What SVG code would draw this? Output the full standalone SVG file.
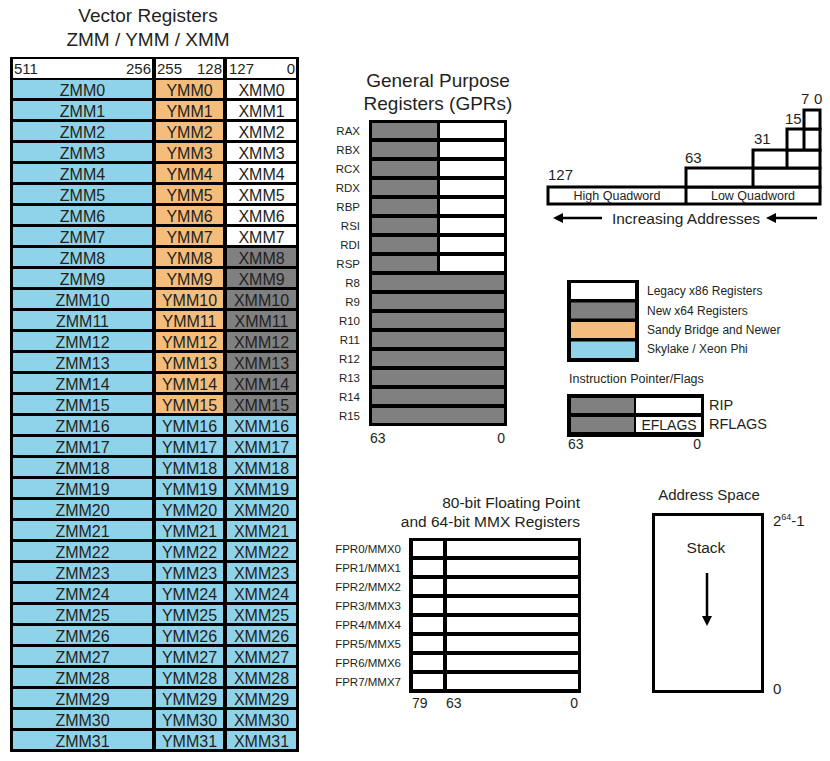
<svg xmlns="http://www.w3.org/2000/svg" width="830" height="761" viewBox="0 0 830 761">
<defs>
<style>
text{font-family:"Liberation Sans",Arial,sans-serif;fill:#231f20}
.z{fill:#8fd3ea}
.o{fill:#f4bd7c}
.w{fill:#fff}
.g{fill:#808080}
.k{fill:#000}
.c{font-size:16px;text-anchor:middle}
.h{font-size:15px}
.t{font-size:19px;text-anchor:middle}
.gl{font-size:11.5px;text-anchor:end}
.fl{font-size:11.5px;text-anchor:end}
.n{font-size:14px}
.e{text-anchor:end}
.q{fill:#fff;stroke:#000;stroke-width:3}
.ln{stroke:#000;stroke-width:3;fill:none}
.ar{stroke:#000;stroke-width:2.5;fill:none}
</style>
<marker id="ah" viewBox="0 0 10 10" refX="1" refY="5" markerWidth="5" markerHeight="4" orient="auto" markerUnits="strokeWidth">
<path d="M0,0 L10,5 L0,10 z" fill="#000"/>
</marker>
</defs>
<rect width="830" height="761" fill="#fff"/>

<g id="vector-registers">
<text class="t" x="148" y="22">Vector Registers</text>
<text class="t" x="148" y="46">ZMM / YMM / XMM</text>
<rect class="k" x="10" y="57" width="289" height="695"/>
<rect class="w" x="13" y="59" width="139" height="19"/>
<rect class="w" x="156" y="59" width="67" height="19"/>
<rect class="w" x="227" y="59" width="69" height="19"/>
<text class="h" x="14" y="74">511</text>
<text class="h e" x="151" y="74">256</text>
<text class="h" x="157" y="74">255</text>
<text class="h e" x="222" y="74">128</text>
<text class="h" x="229" y="74">127</text>
<text class="h e" x="295" y="74">0</text>
</g>

<g id="zmm0-7">
<rect class="z" x="13" y="80" width="139" height="18"/><rect class="o" x="156" y="80" width="67" height="18"/><rect class="w" x="227" y="80" width="69" height="18"/>
<text class="c" x="82.5" y="96">ZMM0</text><text class="c" x="189.5" y="96">YMM0</text><text class="c" x="261.5" y="96">XMM0</text>
<rect class="z" x="13" y="101" width="139" height="18"/><rect class="o" x="156" y="101" width="67" height="18"/><rect class="w" x="227" y="101" width="69" height="18"/>
<text class="c" x="82.5" y="117">ZMM1</text><text class="c" x="189.5" y="117">YMM1</text><text class="c" x="261.5" y="117">XMM1</text>
<rect class="z" x="13" y="122" width="139" height="18"/><rect class="o" x="156" y="122" width="67" height="18"/><rect class="w" x="227" y="122" width="69" height="18"/>
<text class="c" x="82.5" y="138">ZMM2</text><text class="c" x="189.5" y="138">YMM2</text><text class="c" x="261.5" y="138">XMM2</text>
<rect class="z" x="13" y="143" width="139" height="18"/><rect class="o" x="156" y="143" width="67" height="18"/><rect class="w" x="227" y="143" width="69" height="18"/>
<text class="c" x="82.5" y="159">ZMM3</text><text class="c" x="189.5" y="159">YMM3</text><text class="c" x="261.5" y="159">XMM3</text>
<rect class="z" x="13" y="164" width="139" height="18"/><rect class="o" x="156" y="164" width="67" height="18"/><rect class="w" x="227" y="164" width="69" height="18"/>
<text class="c" x="82.5" y="180">ZMM4</text><text class="c" x="189.5" y="180">YMM4</text><text class="c" x="261.5" y="180">XMM4</text>
<rect class="z" x="13" y="185" width="139" height="18"/><rect class="o" x="156" y="185" width="67" height="18"/><rect class="w" x="227" y="185" width="69" height="18"/>
<text class="c" x="82.5" y="201">ZMM5</text><text class="c" x="189.5" y="201">YMM5</text><text class="c" x="261.5" y="201">XMM5</text>
<rect class="z" x="13" y="206" width="139" height="18"/><rect class="o" x="156" y="206" width="67" height="18"/><rect class="w" x="227" y="206" width="69" height="18"/>
<text class="c" x="82.5" y="222">ZMM6</text><text class="c" x="189.5" y="222">YMM6</text><text class="c" x="261.5" y="222">XMM6</text>
<rect class="z" x="13" y="227" width="139" height="18"/><rect class="o" x="156" y="227" width="67" height="18"/><rect class="w" x="227" y="227" width="69" height="18"/>
<text class="c" x="82.5" y="243">ZMM7</text><text class="c" x="189.5" y="243">YMM7</text><text class="c" x="261.5" y="243">XMM7</text>
</g>

<g id="zmm8-15">
<rect class="z" x="13" y="248" width="139" height="18"/><rect class="o" x="156" y="248" width="67" height="18"/><rect class="g" x="227" y="248" width="69" height="18"/>
<text class="c" x="82.5" y="264">ZMM8</text><text class="c" x="189.5" y="264">YMM8</text><text class="c" x="261.5" y="264">XMM8</text>
<rect class="z" x="13" y="269" width="139" height="18"/><rect class="o" x="156" y="269" width="67" height="18"/><rect class="g" x="227" y="269" width="69" height="18"/>
<text class="c" x="82.5" y="285">ZMM9</text><text class="c" x="189.5" y="285">YMM9</text><text class="c" x="261.5" y="285">XMM9</text>
<rect class="z" x="13" y="290" width="139" height="18"/><rect class="o" x="156" y="290" width="67" height="18"/><rect class="g" x="227" y="290" width="69" height="18"/>
<text class="c" x="82.5" y="306">ZMM10</text><text class="c" x="189.5" y="306">YMM10</text><text class="c" x="261.5" y="306">XMM10</text>
<rect class="z" x="13" y="311" width="139" height="18"/><rect class="o" x="156" y="311" width="67" height="18"/><rect class="g" x="227" y="311" width="69" height="18"/>
<text class="c" x="82.5" y="327">ZMM11</text><text class="c" x="189.5" y="327">YMM11</text><text class="c" x="261.5" y="327">XMM11</text>
<rect class="z" x="13" y="332" width="139" height="18"/><rect class="o" x="156" y="332" width="67" height="18"/><rect class="g" x="227" y="332" width="69" height="18"/>
<text class="c" x="82.5" y="348">ZMM12</text><text class="c" x="189.5" y="348">YMM12</text><text class="c" x="261.5" y="348">XMM12</text>
<rect class="z" x="13" y="353" width="139" height="18"/><rect class="o" x="156" y="353" width="67" height="18"/><rect class="g" x="227" y="353" width="69" height="18"/>
<text class="c" x="82.5" y="369">ZMM13</text><text class="c" x="189.5" y="369">YMM13</text><text class="c" x="261.5" y="369">XMM13</text>
<rect class="z" x="13" y="374" width="139" height="18"/><rect class="o" x="156" y="374" width="67" height="18"/><rect class="g" x="227" y="374" width="69" height="18"/>
<text class="c" x="82.5" y="390">ZMM14</text><text class="c" x="189.5" y="390">YMM14</text><text class="c" x="261.5" y="390">XMM14</text>
<rect class="z" x="13" y="395" width="139" height="18"/><rect class="o" x="156" y="395" width="67" height="18"/><rect class="g" x="227" y="395" width="69" height="18"/>
<text class="c" x="82.5" y="411">ZMM15</text><text class="c" x="189.5" y="411">YMM15</text><text class="c" x="261.5" y="411">XMM15</text>
</g>

<g id="zmm16-31">
<rect class="z" x="13" y="416" width="139" height="18"/><rect class="z" x="156" y="416" width="67" height="18"/><rect class="z" x="227" y="416" width="69" height="18"/>
<text class="c" x="82.5" y="432">ZMM16</text><text class="c" x="189.5" y="432">YMM16</text><text class="c" x="261.5" y="432">XMM16</text>
<rect class="z" x="13" y="437" width="139" height="18"/><rect class="z" x="156" y="437" width="67" height="18"/><rect class="z" x="227" y="437" width="69" height="18"/>
<text class="c" x="82.5" y="453">ZMM17</text><text class="c" x="189.5" y="453">YMM17</text><text class="c" x="261.5" y="453">XMM17</text>
<rect class="z" x="13" y="458" width="139" height="18"/><rect class="z" x="156" y="458" width="67" height="18"/><rect class="z" x="227" y="458" width="69" height="18"/>
<text class="c" x="82.5" y="474">ZMM18</text><text class="c" x="189.5" y="474">YMM18</text><text class="c" x="261.5" y="474">XMM18</text>
<rect class="z" x="13" y="479" width="139" height="18"/><rect class="z" x="156" y="479" width="67" height="18"/><rect class="z" x="227" y="479" width="69" height="18"/>
<text class="c" x="82.5" y="495">ZMM19</text><text class="c" x="189.5" y="495">YMM19</text><text class="c" x="261.5" y="495">XMM19</text>
<rect class="z" x="13" y="500" width="139" height="18"/><rect class="z" x="156" y="500" width="67" height="18"/><rect class="z" x="227" y="500" width="69" height="18"/>
<text class="c" x="82.5" y="516">ZMM20</text><text class="c" x="189.5" y="516">YMM20</text><text class="c" x="261.5" y="516">XMM20</text>
<rect class="z" x="13" y="521" width="139" height="18"/><rect class="z" x="156" y="521" width="67" height="18"/><rect class="z" x="227" y="521" width="69" height="18"/>
<text class="c" x="82.5" y="537">ZMM21</text><text class="c" x="189.5" y="537">YMM21</text><text class="c" x="261.5" y="537">XMM21</text>
<rect class="z" x="13" y="542" width="139" height="18"/><rect class="z" x="156" y="542" width="67" height="18"/><rect class="z" x="227" y="542" width="69" height="18"/>
<text class="c" x="82.5" y="558">ZMM22</text><text class="c" x="189.5" y="558">YMM22</text><text class="c" x="261.5" y="558">XMM22</text>
<rect class="z" x="13" y="563" width="139" height="18"/><rect class="z" x="156" y="563" width="67" height="18"/><rect class="z" x="227" y="563" width="69" height="18"/>
<text class="c" x="82.5" y="579">ZMM23</text><text class="c" x="189.5" y="579">YMM23</text><text class="c" x="261.5" y="579">XMM23</text>
<rect class="z" x="13" y="584" width="139" height="18"/><rect class="z" x="156" y="584" width="67" height="18"/><rect class="z" x="227" y="584" width="69" height="18"/>
<text class="c" x="82.5" y="600">ZMM24</text><text class="c" x="189.5" y="600">YMM24</text><text class="c" x="261.5" y="600">XMM24</text>
<rect class="z" x="13" y="605" width="139" height="18"/><rect class="z" x="156" y="605" width="67" height="18"/><rect class="z" x="227" y="605" width="69" height="18"/>
<text class="c" x="82.5" y="621">ZMM25</text><text class="c" x="189.5" y="621">YMM25</text><text class="c" x="261.5" y="621">XMM25</text>
<rect class="z" x="13" y="626" width="139" height="18"/><rect class="z" x="156" y="626" width="67" height="18"/><rect class="z" x="227" y="626" width="69" height="18"/>
<text class="c" x="82.5" y="642">ZMM26</text><text class="c" x="189.5" y="642">YMM26</text><text class="c" x="261.5" y="642">XMM26</text>
<rect class="z" x="13" y="647" width="139" height="18"/><rect class="z" x="156" y="647" width="67" height="18"/><rect class="z" x="227" y="647" width="69" height="18"/>
<text class="c" x="82.5" y="663">ZMM27</text><text class="c" x="189.5" y="663">YMM27</text><text class="c" x="261.5" y="663">XMM27</text>
<rect class="z" x="13" y="668" width="139" height="18"/><rect class="z" x="156" y="668" width="67" height="18"/><rect class="z" x="227" y="668" width="69" height="18"/>
<text class="c" x="82.5" y="684">ZMM28</text><text class="c" x="189.5" y="684">YMM28</text><text class="c" x="261.5" y="684">XMM28</text>
<rect class="z" x="13" y="689" width="139" height="18"/><rect class="z" x="156" y="689" width="67" height="18"/><rect class="z" x="227" y="689" width="69" height="18"/>
<text class="c" x="82.5" y="705">ZMM29</text><text class="c" x="189.5" y="705">YMM29</text><text class="c" x="261.5" y="705">XMM29</text>
<rect class="z" x="13" y="710" width="139" height="18"/><rect class="z" x="156" y="710" width="67" height="18"/><rect class="z" x="227" y="710" width="69" height="18"/>
<text class="c" x="82.5" y="726">ZMM30</text><text class="c" x="189.5" y="726">YMM30</text><text class="c" x="261.5" y="726">XMM30</text>
<rect class="z" x="13" y="731" width="139" height="18"/><rect class="z" x="156" y="731" width="67" height="18"/><rect class="z" x="227" y="731" width="69" height="18"/>
<text class="c" x="82.5" y="747">ZMM31</text><text class="c" x="189.5" y="747">YMM31</text><text class="c" x="261.5" y="747">XMM31</text>
</g>

<g id="gprs">
<text class="t" x="438" y="87">General Purpose</text>
<text class="t" x="438" y="110">Registers (GPRs)</text>
<rect class="k" x="369" y="120" width="138" height="306"/>
<rect class="g" x="372" y="123" width="65" height="15"/><rect class="w" x="440" y="123" width="64" height="15"/>
<rect class="g" x="372" y="142" width="65" height="15"/><rect class="w" x="440" y="142" width="64" height="15"/>
<rect class="g" x="372" y="161" width="65" height="15"/><rect class="w" x="440" y="161" width="64" height="15"/>
<rect class="g" x="372" y="180" width="65" height="15"/><rect class="w" x="440" y="180" width="64" height="15"/>
<rect class="g" x="372" y="199" width="65" height="15"/><rect class="w" x="440" y="199" width="64" height="15"/>
<rect class="g" x="372" y="218" width="65" height="15"/><rect class="w" x="440" y="218" width="64" height="15"/>
<rect class="g" x="372" y="237" width="65" height="15"/><rect class="w" x="440" y="237" width="64" height="15"/>
<rect class="g" x="372" y="256" width="65" height="15"/><rect class="w" x="440" y="256" width="64" height="15"/>
<rect class="g" x="372" y="275" width="132" height="15"/>
<rect class="g" x="372" y="294" width="132" height="15"/>
<rect class="g" x="372" y="313" width="132" height="15"/>
<rect class="g" x="372" y="332" width="132" height="15"/>
<rect class="g" x="372" y="351" width="132" height="15"/>
<rect class="g" x="372" y="370" width="132" height="15"/>
<rect class="g" x="372" y="389" width="132" height="15"/>
<rect class="g" x="372" y="408" width="132" height="15"/>
<text class="gl" x="360" y="135">RAX</text>
<text class="gl" x="360" y="154">RBX</text>
<text class="gl" x="360" y="173">RCX</text>
<text class="gl" x="360" y="192">RDX</text>
<text class="gl" x="360" y="211">RBP</text>
<text class="gl" x="360" y="230">RSI</text>
<text class="gl" x="360" y="249">RDI</text>
<text class="gl" x="360" y="268">RSP</text>
<text class="gl" x="360" y="287">R8</text>
<text class="gl" x="360" y="306">R9</text>
<text class="gl" x="360" y="325">R10</text>
<text class="gl" x="360" y="344">R11</text>
<text class="gl" x="360" y="363">R12</text>
<text class="gl" x="360" y="382">R13</text>
<text class="gl" x="360" y="401">R14</text>
<text class="gl" x="360" y="420">R15</text>
<text class="n" x="370" y="443">63</text>
<text class="n e" x="505" y="443">0</text>
</g>

<g id="quadword">
<rect class="q" x="548" y="187" width="272" height="17"/>
<rect class="q" x="686" y="168" width="134" height="19"/>
<rect class="q" x="753" y="150" width="67" height="18"/>
<rect class="q" x="787" y="129" width="33" height="21"/>
<rect class="q" x="804" y="110" width="16" height="19"/>
<line class="ln" x1="686" y1="187" x2="686" y2="204"/>
<line class="ln" x1="753" y1="168" x2="753" y2="187"/>
<line class="ln" x1="787" y1="150" x2="787" y2="168"/>
<line class="ln" x1="804" y1="129" x2="804" y2="150"/>
<text class="h" x="548" y="180">127</text>
<text class="h" x="685" y="163">63</text>
<text class="h" x="754" y="144">31</text>
<text class="h" x="785" y="124">15</text>
<text class="h" x="801" y="104">7</text>
<text class="h" x="814" y="104">0</text>
<text x="617" y="200" font-size="12.5" text-anchor="middle">High Quadword</text>
<text x="753" y="200" font-size="12.5" text-anchor="middle">Low Quadword</text>
<text x="686" y="224" font-size="15.5" text-anchor="middle">Increasing Addresses</text>
</g>

<g id="legend">
<rect class="k" x="567" y="280" width="72" height="82"/>
<rect class="w" x="571" y="283" width="64" height="16"/>
<rect class="g" x="571" y="302.5" width="64" height="16"/>
<rect class="o" x="571" y="322" width="64" height="16"/>
<rect class="z" x="571" y="341.5" width="64" height="16.5"/>
<text x="647" y="295" font-size="12">Legacy x86 Registers</text>
<text x="647" y="315" font-size="12">New x64 Registers</text>
<text x="647" y="334" font-size="12">Sandy Bridge and Newer</text>
<text x="647" y="353" font-size="12">Skylake / Xeon Phi</text>
</g>

<g id="instruction-pointer">
<text x="569" y="383" font-size="12.5">Instruction Pointer/Flags</text>
<rect class="k" x="567" y="394" width="137" height="43"/>
<rect class="g" x="571" y="398" width="63" height="15"/><rect class="w" x="636" y="398" width="65" height="15"/>
<rect class="g" x="571" y="417" width="63" height="15"/><rect class="w" x="636" y="417" width="65" height="15"/>
<text x="669" y="430" font-size="14" text-anchor="middle">EFLAGS</text>
<text x="709" y="410" font-size="14.5">RIP</text>
<text x="709" y="429" font-size="14.5">RFLAGS</text>
<text class="n" x="568" y="449">63</text>
<text class="n e" x="701" y="449">0</text>
</g>

<g id="fpr">
<text x="580" y="508" font-size="15.5" text-anchor="end">80-bit Floating Point</text>
<text x="580" y="527" font-size="15.5" text-anchor="end">and 64-bit MMX Registers</text>
<rect class="k" x="409" y="538" width="172" height="155"/>
<rect class="w" x="413" y="541" width="30" height="15"/><rect class="w" x="447" y="541" width="131" height="15"/>
<rect class="w" x="413" y="560" width="30" height="15"/><rect class="w" x="447" y="560" width="131" height="15"/>
<rect class="w" x="413" y="579" width="30" height="15"/><rect class="w" x="447" y="579" width="131" height="15"/>
<rect class="w" x="413" y="598" width="30" height="15"/><rect class="w" x="447" y="598" width="131" height="15"/>
<rect class="w" x="413" y="617" width="30" height="15"/><rect class="w" x="447" y="617" width="131" height="15"/>
<rect class="w" x="413" y="636" width="30" height="15"/><rect class="w" x="447" y="636" width="131" height="15"/>
<rect class="w" x="413" y="655" width="30" height="15"/><rect class="w" x="447" y="655" width="131" height="15"/>
<rect class="w" x="413" y="674" width="30" height="15"/><rect class="w" x="447" y="674" width="131" height="15"/>
<text class="fl" x="401" y="553">FPR0/MMX0</text>
<text class="fl" x="401" y="572">FPR1/MMX1</text>
<text class="fl" x="401" y="591">FPR2/MMX2</text>
<text class="fl" x="401" y="610">FPR3/MMX3</text>
<text class="fl" x="401" y="629">FPR4/MMX4</text>
<text class="fl" x="401" y="648">FPR5/MMX5</text>
<text class="fl" x="401" y="667">FPR6/MMX6</text>
<text class="fl" x="401" y="686">FPR7/MMX7</text>
<text class="n" x="412" y="708">79</text>
<text class="n" x="446" y="708">63</text>
<text class="n e" x="578" y="708">0</text>
</g>

<g id="address-space">
<text x="709" y="500" font-size="15" text-anchor="middle">Address Space</text>
<rect x="653.5" y="514.5" width="109" height="177" fill="#fff" stroke="#000" stroke-width="3"/>
<text x="706" y="553" font-size="15.5" text-anchor="middle">Stack</text>
<text x="773" y="526" font-size="15">2<tspan font-size="9" dy="-6">64</tspan><tspan dy="6">-1</tspan></text>
<text x="773" y="694" font-size="15">0</text>
</g>

<g id="connectors">
<line class="ar" x1="602" y1="218" x2="562" y2="218" marker-end="url(#ah)"/>
<line class="ar" x1="817" y1="218" x2="775" y2="218" marker-end="url(#ah)"/>
<line class="ar" x1="707" y1="573" x2="707" y2="617" stroke-width="3" marker-end="url(#ah)"/>
</g>
</svg>
